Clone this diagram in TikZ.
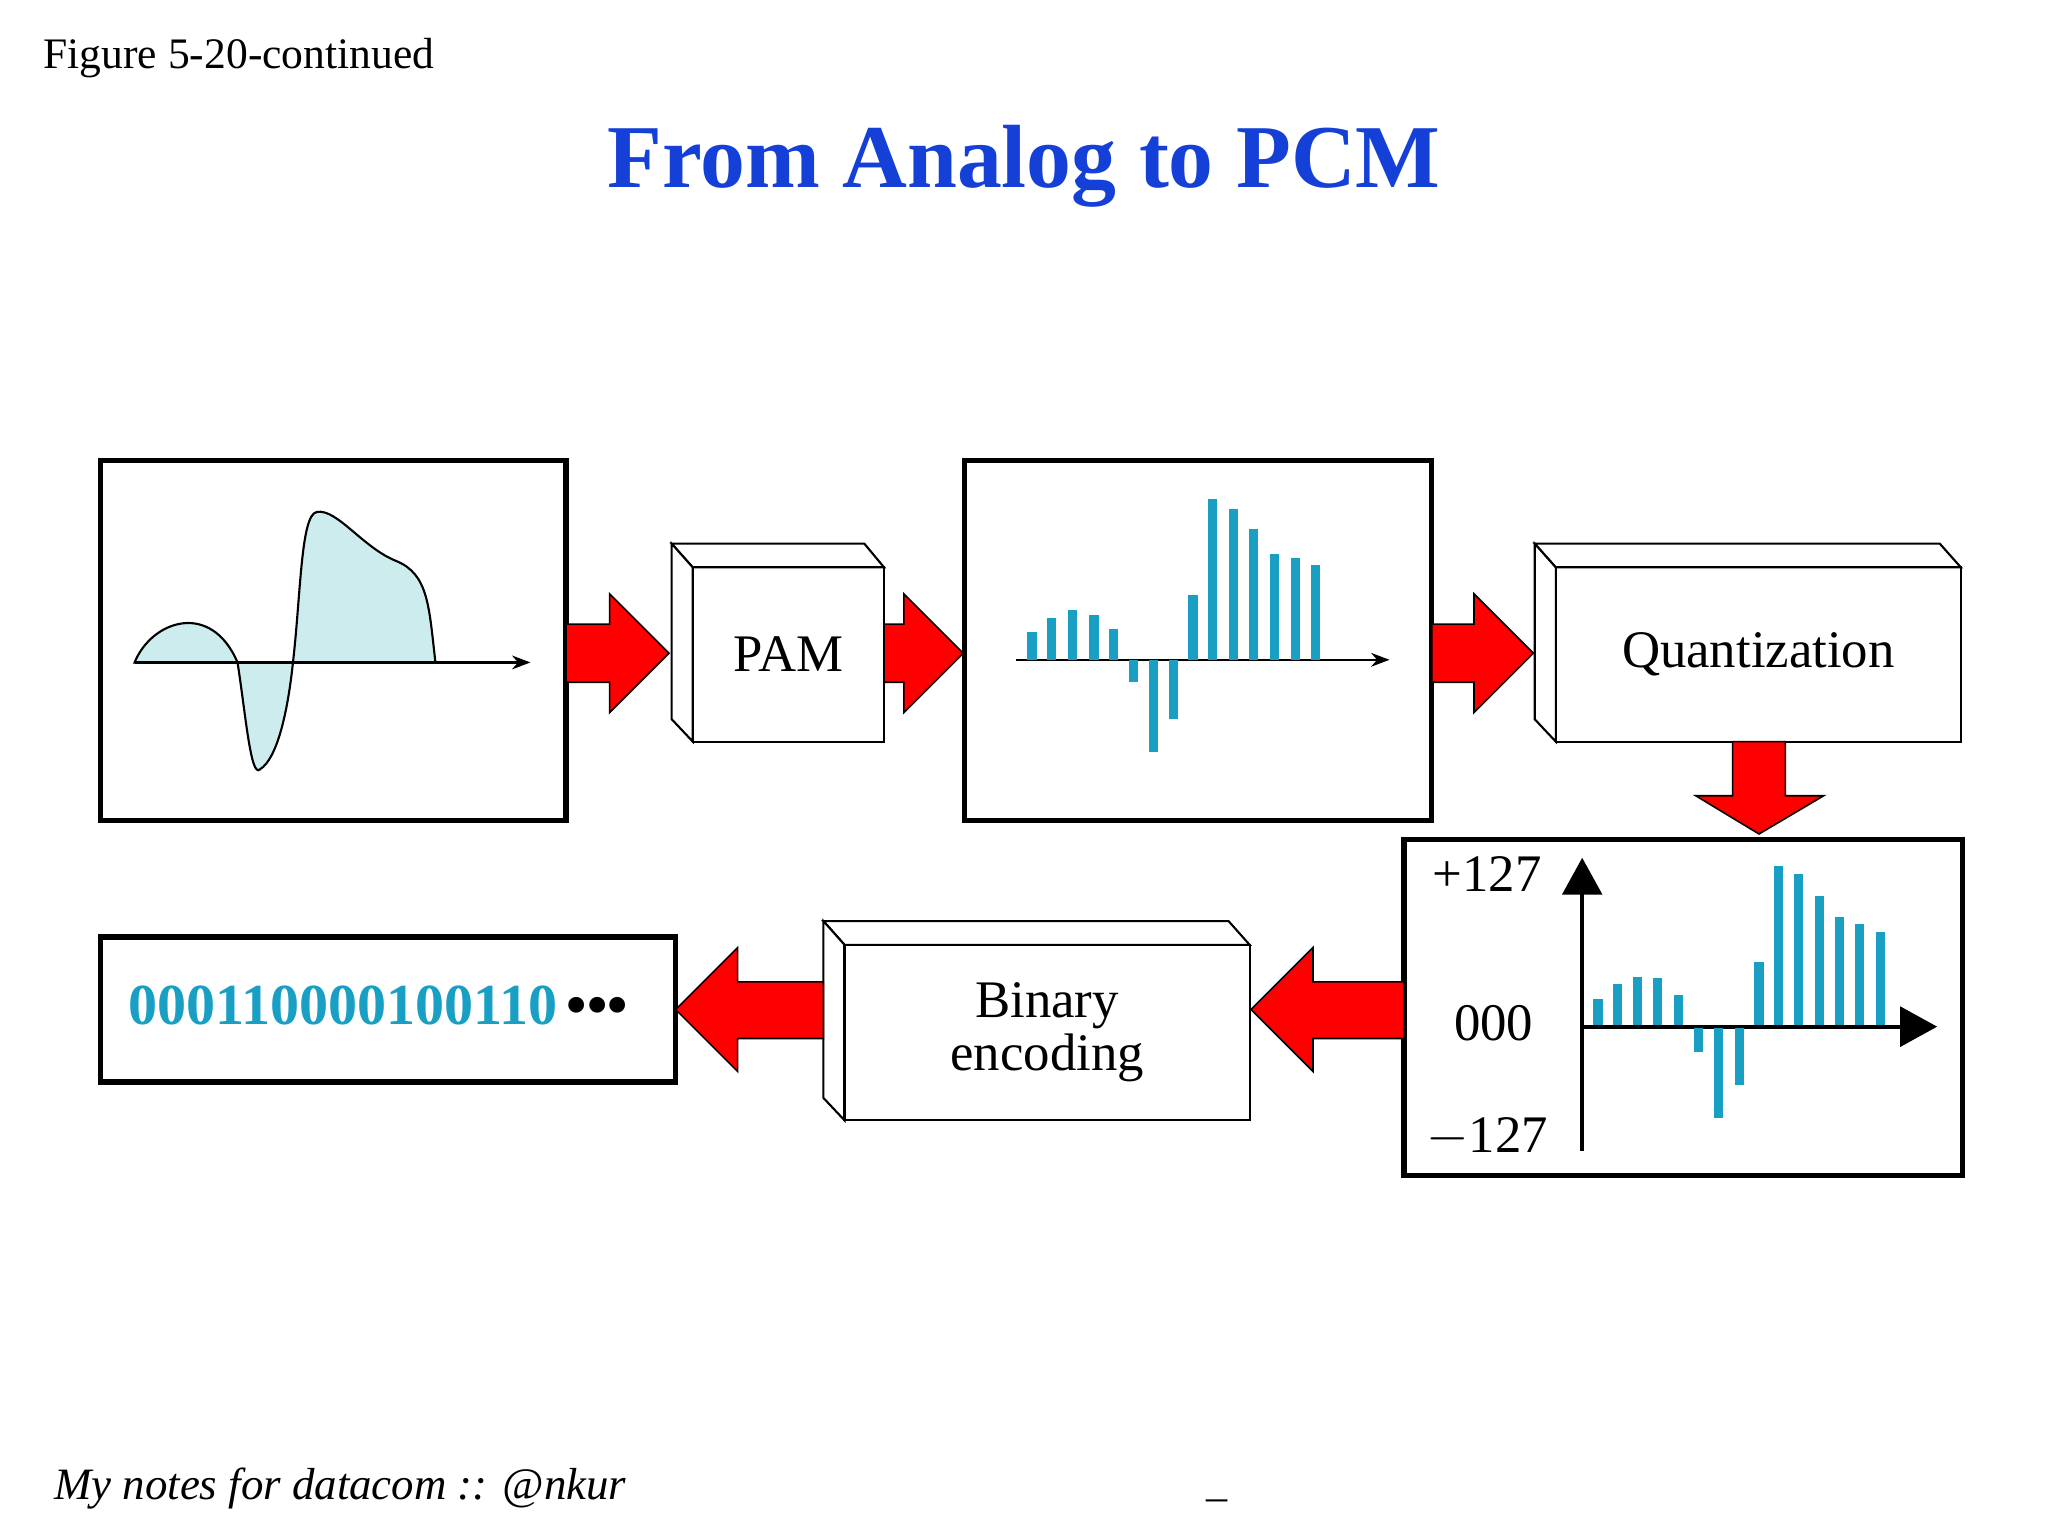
\documentclass[tikz,border=0pt]{standalone}
\usepackage{fontspec}
\setmainfont{Liberation Serif}
\usetikzlibrary{arrows.meta}
\definecolor{ttl}{HTML}{1440D8}
\definecolor{bar}{HTML}{1A9FC4}
\definecolor{wave}{HTML}{CDECEE}
\begin{document}
\begin{tikzpicture}[x=0.5pt,y=-0.5pt,
  frame/.style={draw,line width=2pt},
  redarr/.style={fill=red,draw=black,line width=0.6pt},
  lbl/.style={font=\fontsize{20}{22}\selectfont},
  bars/.style={fill=bar}]
\useasboundingbox (0,0) rectangle (1552,1164);
\node[anchor=west,font=\fontsize{16.5}{18}\selectfont] (fig) at (26,44) {Figure 5-20-continued};
\node[font=\fontsize{34}{38}\selectfont\bfseries,text=ttl] (title) at (776,126) {From Analog to PCM};
\node[anchor=west,font=\fontsize{17}{19}\selectfont\itshape] (foot) at (34,1128) {My notes for datacom :: @nkur};
\node[font=\fontsize{16}{18}\selectfont] (us) at (922,1136) {\_};
% box 1
\node[frame,minimum width=176.5pt,minimum height=136.5pt] (b1) at (252.5,485.5) {};
\fill[wave,draw=black,line width=0.8pt] (102,502) .. controls (115,470) and (160,455) .. (180,502)
  .. controls (186,540) and (190,590) .. (197,583) .. controls (210,575) and (218,540) .. (222,502)
  .. controls (228,450) and (228,390) .. (240,388) .. controls (255,385) and (275,415) .. (300,425)
  .. controls (325,435) and (325,460) .. (330,502) -- cycle;
\coordinate (a1s) at (102,502); \coordinate (a1e) at (402,502);
\draw[-{Stealth[length=7pt]},line width=0.8pt] (a1s) -- (a1e);
% PAM box
\draw[line width=0.8pt,fill=white] (509,412) -- (655,412) -- (670,430) -- (525,430) -- cycle;
\draw[line width=0.8pt,fill=white] (509,412) -- (525,430) -- (525,562) -- (509,545) -- cycle;
\node[draw,line width=0.8pt,minimum width=72.5pt,minimum height=66pt,lbl] (pam) at (597.5,496) {PAM};
% box 2
\node[frame,minimum width=177pt,minimum height=136.5pt] (b2) at (908,485.5) {};
\draw[-{Stealth[length=7pt]},line width=0.8pt] (770,500) -- (1053,500);
\foreach \x/\t in {782/479,797/468,813/462,829/466,844/477,904/451,919/378,935/386,950/401,966/420,982/423,997/428}
  \fill[bars] (\x-3.5,\t) rectangle (\x+3.5,500);
\foreach \x/\b in {859/517,874/570,889/545}
  \fill[bars] (\x-3.5,500) rectangle (\x+3.5,\b);
% Quantization box
\draw[line width=0.8pt,fill=white] (1163,412) -- (1470,412) -- (1486,430) -- (1179,430) -- cycle;
\draw[line width=0.8pt,fill=white] (1163,412) -- (1179,430) -- (1179,562) -- (1163,545) -- cycle;
\node[draw,line width=0.8pt,minimum width=153.5pt,minimum height=66pt,lbl] (quant) at (1332.5,496) {Quantization};
% box 3
\node[frame,minimum width=211.5pt,minimum height=127.5pt] (b3) at (1275.5,763.5) {};
\node[lbl] (l1) at (1127,662) {+127};
\node[lbl] (l2) at (1132,775) {000};
\node[lbl] (l3) at (1127,862) {$-$127};
\draw[-{Triangle[length=14pt,width=15pt]},line width=1.5pt] (1199,872) -- (1199,650);
\draw[-{Triangle[length=14pt,width=15pt]},line width=1.5pt] (1199,778) -- (1468,778);
\foreach \x/\t in {1211/757,1226/746,1241/740,1256/741,1272/754,1333/729,1348/656,1363/662,1379/679,1394/695,1409/700,1425/706}
  \fill[bars] (\x-3.5,\t) rectangle (\x+3.5,777);
\foreach \x/\b in {1287/797,1302/847,1318/822}
  \fill[bars] (\x-3.5,779) rectangle (\x+3.5,\b);
% Binary encoding box
\draw[line width=0.8pt,fill=white] (624,698) -- (931,698) -- (947,716) -- (640,716) -- cycle;
\draw[line width=0.8pt,fill=white] (624,698) -- (640,716) -- (640,849) -- (624,832) -- cycle;
\node[draw,line width=0.8pt,minimum width=153.5pt,minimum height=66.5pt,align=center,inner sep=0pt,font=\fontsize{20}{20}\selectfont] (enc) at (793.5,782.5) {Binary\\encoding};
% output box
\node[frame,minimum width=218pt,minimum height=55pt] (out) at (294,765) {};
\node[font=\fontsize{22}{24}\selectfont\bfseries,anchor=west] (bits) at (90,762) {\textcolor{bar}{000110000100110}\,\textcolor{black}{•••}};
% red arrows
\draw[redarr] (429,473) -- (462,473) -- (462,450) -- (507,495) -- (462,540) -- (462,517) -- (429,517) -- cycle;
\draw[redarr] (670,473) -- (685,473) -- (685,450) -- (730,495) -- (685,540) -- (685,517) -- (670,517) -- cycle;
\draw[redarr] (1085,473) -- (1117,473) -- (1117,450) -- (1162,495) -- (1117,540) -- (1117,517) -- (1085,517) -- cycle;
\draw[redarr] (1313,562) -- (1353,562) -- (1353,603) -- (1382,603) -- (1333,632) -- (1285,603) -- (1313,603) -- cycle;
\draw[redarr] (1064,744) -- (995,744) -- (995,718) -- (948,765) -- (995,812) -- (995,787) -- (1064,787) -- cycle;
\draw[redarr] (624,744) -- (559,744) -- (559,718) -- (512,765) -- (559,812) -- (559,787) -- (624,787) -- cycle;
\end{tikzpicture}
\end{document}
